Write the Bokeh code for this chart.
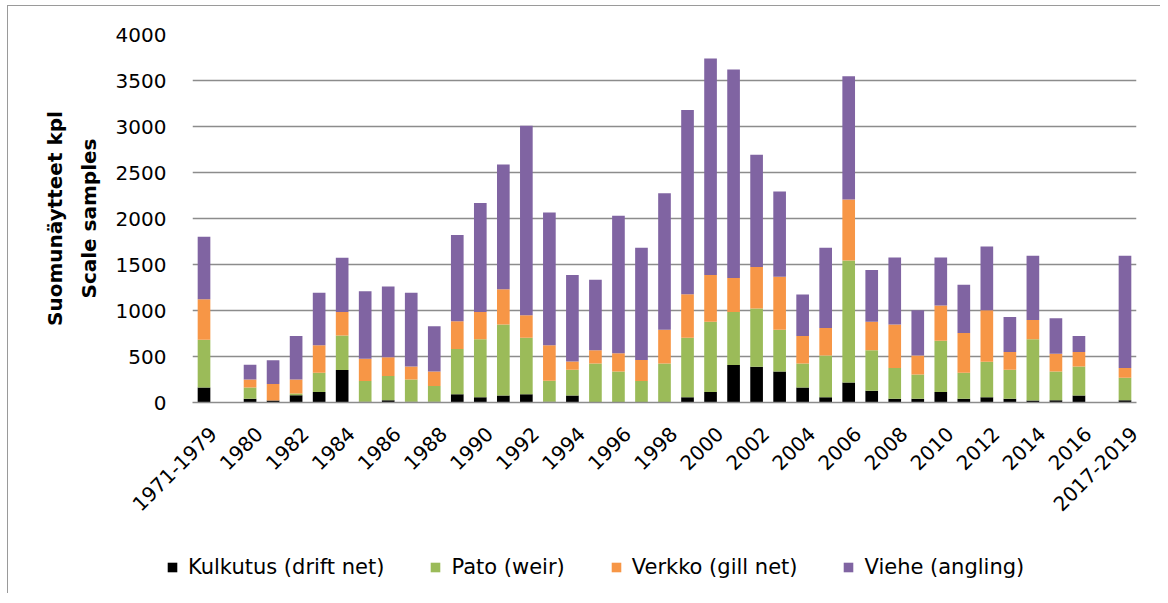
import math
from bokeh.plotting import figure
from bokeh.layouts import column, row
from bokeh.models import FixedTicker, Legend, LegendItem, Range1d, ColumnDataSource
from bokeh.embed import file_html
from bokeh.resources import INLINE

# ---- data -------------------------------------------------------------
categories = (["1971-1979", ""] + [str(y) for y in range(1980, 2017)] + [" ", "2017-2019"])

kulkutus = [164, 0, 40, 22, 80, 113, 352, 8, 25, 8,
            8, 91, 58, 76, 91, 8, 76, 0, 0, 5,
            5, 58, 113, 407, 389, 338, 164, 58, 218, 127,
            40, 40, 113, 40, 58, 40, 22, 25, 76, 0, 25]
pato = [519, 0, 124, 0, 18, 210, 375, 225, 262, 243,
        170, 490, 629, 771, 614, 228, 280, 425, 338, 228,
        420, 647, 766, 578, 632, 454, 261, 454, 1326, 440,
        334, 265, 559, 283, 385, 316, 665, 313, 316, 0, 244]
verkko = [440, 0, 87, 178, 153, 298, 258, 243, 204, 141,
          160, 302, 298, 385, 243, 385, 91, 142, 196, 229,
          367, 472, 506, 367, 451, 574, 298, 298, 662, 312,
          473, 207, 382, 433, 560, 193, 211, 193, 157, 0, 105]
viehe = [679, 0, 160, 258, 472, 571, 589, 734, 770, 800,
         491, 938, 1184, 1355, 2061, 1443, 938, 767, 1497, 1221,
         1483, 2003, 2354, 2267, 1221, 927, 451, 873, 1341, 560,
         730, 491, 523, 523, 694, 381, 697, 385, 174, 0, 1221]

series_names = ["Kulkutus (drift net)", "Pato (weir)", "Verkko (gill net)", "Viehe (angling)"]
colors = ["#000000", "#9BBB59", "#F79646", "#8064A2"]
y_ticks = [0, 500, 1000, 1500, 2000, 2500, 3000, 3500, 4000]

FONT = "DejaVu Sans"
LABEL_SHIFT = 0.4  # Excel-like placement of the rotated category labels

src = ColumnDataSource(dict(
    x=list(range(len(categories))),
    k=kulkutus, p=pato, v=verkko, vi=viehe,
))

W = 1152
p = figure(width=W, height=531, output_backend="svg", toolbar_location=None,
           x_range=Range1d(-0.5, len(categories) - 0.5), y_range=Range1d(0, 4000),
           min_border_left=184, min_border_right=24, min_border_top=28, min_border_bottom=135,
           outline_line_color=None, background_fill_color="white", border_fill_color="white")

rs = p.vbar_stack(["k", "p", "v", "vi"], x="x", width=0.55, color=colors,
                  line_color=None, source=src)

# axes
label_idx = list(range(0, len(categories), 2))
xa = p.xaxis[0]
xa.ticker = FixedTicker(ticks=[i + LABEL_SHIFT for i in label_idx])
xa.major_label_overrides = {i + LABEL_SHIFT: categories[i] for i in label_idx}
xa.major_label_orientation = math.pi / 4
xa.major_tick_line_color = None
xa.minor_tick_line_color = None
xa.major_tick_out = 0
xa.major_tick_in = 0
xa.axis_line_color = "#8c8c8c"
xa.axis_line_width = 1.5
xa.major_label_standoff = 28
xa.major_label_text_font = FONT
xa.major_label_text_font_size = "20px"
xa.major_label_text_color = "black"

ya = p.yaxis[0]
ya.ticker = FixedTicker(ticks=y_ticks)
ya.axis_line_color = None
ya.major_tick_line_color = None
ya.minor_tick_line_color = None
ya.major_tick_out = 0
ya.major_tick_in = 0
ya.major_label_standoff = 26
ya.major_label_text_font = FONT
ya.major_label_text_font_size = "20px"
ya.major_label_text_color = "black"
ya.axis_label = "Suomunäytteet kpl\nScale samples"
ya.axis_label_text_font = FONT
ya.axis_label_text_font_style = "bold"
ya.axis_label_text_font_size = "20px"
ya.axis_label_text_line_height = 1.4
ya.axis_label_standoff = 12
ya.axis_label_text_color = "black"

p.xgrid.grid_line_color = None
p.ygrid.ticker = FixedTicker(ticks=y_ticks)
p.ygrid.grid_line_color = "#8c8c8c"
p.ygrid.grid_line_width = 1.5

# ---- legend strip below the chart ------------------------------------
# the same series drawn into a strip whose ranges lie wholly outside the
# data (negative x and y), so only the legend of this strip is visible
lf = figure(width=W, height=56, output_backend="svg", toolbar_location=None,
            x_range=Range1d(-60, -50), y_range=Range1d(-20, -10),
            x_axis_location=None, y_axis_location=None,
            min_border=0, outline_line_color=None,
            background_fill_color="white", border_fill_color="white")
lf.xgrid.grid_line_color = None
lf.ygrid.grid_line_color = None
legend_rs = lf.vbar_stack(["k", "p", "v", "vi"], x="x", width=0.55, color=colors,
                          line_color=None, source=src)
legend = Legend(items=[LegendItem(label=n, renderers=[r]) for n, r in zip(series_names, legend_rs)],
                orientation="horizontal", location=(158, 14),
                border_line_color=None, background_fill_alpha=0,
                padding=0, margin=0, spacing=45,
                glyph_width=12, glyph_height=12, label_standoff=10,
                label_text_font=FONT, label_text_font_size="21px",
                label_text_color="black")
lf.add_layout(legend)

layout = column(p, row(lf), spacing=0,
                styles={"margin-left": "7px", "margin-top": "5px",
                        "border-left": "1px solid #9a9a9a", "border-top": "1px solid #9a9a9a"})

open("out.html", "w").write(file_html(layout, INLINE))
